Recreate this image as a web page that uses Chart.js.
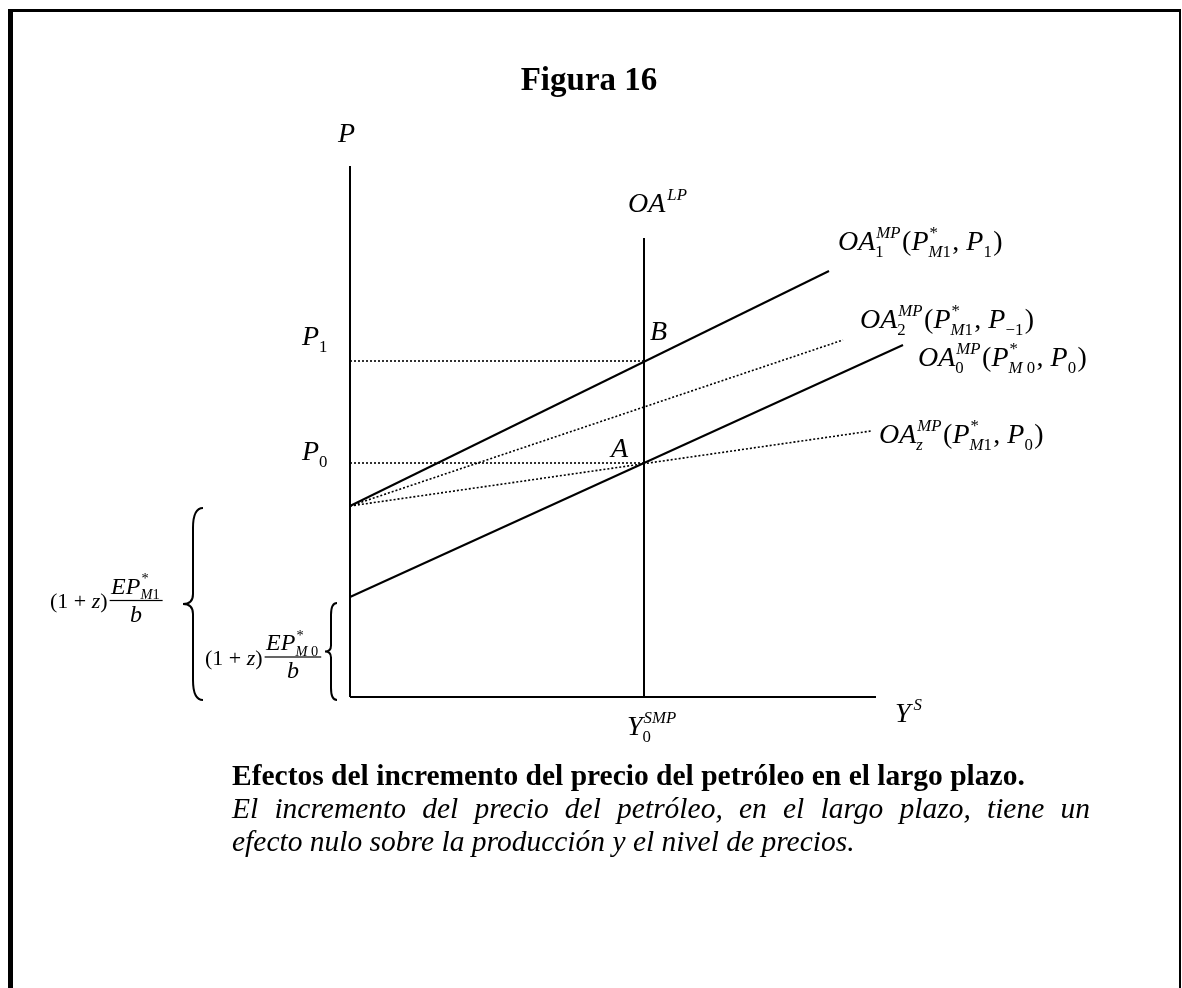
<!DOCTYPE html>
<html>
<head>
<meta charset="utf-8">
<script src="https://cdn.jsdelivr.net/npm/chart.js@4.4.1/dist/chart.umd.min.js"></script>
<style>
  body { margin: 0; background: #fff; font-family: "Liberation Serif", "Times New Roman", serif; }
  #frame { position: absolute; left: 8px; top: 9px; width: 1166px; height: 1000px;
           border-left: 5px solid #000; border-top: 3px solid #000; border-right: 2px solid #000; }
  #chart { position: absolute; left: 0; top: 0; }
  #title { position: absolute; left: 0; width: 1178px; top: 61px; text-align: center;
           font-weight: bold; font-size: 33px; }
  #caption { position: absolute; left: 232px; top: 759px; width: 858px; font-size: 29.5px; line-height: 33px; }
  #caption b { display: block; white-space: nowrap; }
  #caption .j { display: block; font-style: italic; text-align: justify; text-align-last: justify; white-space: nowrap; }
  #caption .l { display: block; font-style: italic; white-space: nowrap; }
</style>
</head>
<body>
<div id="frame"></div>
<canvas id="chart" width="1182" height="988"></canvas>
<div id="title">Figura 16</div>
<div id="caption">
  <b>Efectos del incremento del precio del petróleo en el largo plazo.</b>
  <span class="j">El incremento del precio del petróleo, en el largo plazo, tiene un</span>
  <span class="l">efecto nulo sobre la producción y el nivel de precios.</span>
</div>
<script>
// axis extents (picture units, origin at the axes corner)
const xAxisEnd = 526;
const yAxisTop = 531;

// long-run supply OA^LP sits at Y0^SMP
const ySMP = 294;
const lrasTop = 459;

// price levels P0, P1
const priceNames = ['P0', 'P1'];
const priceLevels = [234, 336];

// intercepts (1+z)EP*M0/b and (1+z)EP*M1/b
const intercepts = [100, 191];

// medium-run supply curves: start on the P axis, end point
const curveNames = ['OA0', 'OA1', 'OA2', 'OAz'];
const curveStartY = [100, 191, 191, 191];
const curveEndX = [553, 479, 493, 521];
const curveEndY = [352, 426, 357, 266];
const curveDotted = [false, false, true, true];

function seg(x0, y0, x1, y1, dotted) {
  return {
    data: [{ x: x0, y: y0 }, { x: x1, y: y1 }],
    showLine: true,
    borderColor: '#000',
    borderWidth: dotted ? 1.6 : 2,
    borderDash: dotted ? [2, 2] : [],
    pointRadius: 0,
    clip: false,
    fill: false
  };
}

const datasets = [
  seg(0, 0, 0, yAxisTop, false),
  seg(0, 0, xAxisEnd, 0, false),
  seg(ySMP, 0, ySMP, lrasTop, false)
];
priceLevels.forEach(p => datasets.push(seg(0, p, ySMP, p, true)));
curveNames.forEach((n, i) => datasets.push(seg(0, curveStartY[i], curveEndX[i], curveEndY[i], curveDotted[i])));

// ---- little math typesetter: letters italic, the rest upright ----
function fontFor(ch, size) {
  return (/[A-Za-z]/.test(ch) ? 'italic ' : '') + size + 'px "Liberation Serif"';
}
function run(ctx, str, x, y, size, draw) {
  for (const ch of str) {
    ctx.font = fontFor(ch, size);
    if (draw) ctx.fillText(ch, x, y);
    x += ctx.measureText(ch).width;
  }
  return x;
}
function math(ctx, tokens, x, y, size, draw = true) {
  const s = size * 0.6;
  tokens.forEach(t => {
    if (typeof t === 'string') {
      x = run(ctx, t, x, y, size, draw);
    } else {
      const x0 = x + (t.kern || 0);
      let w = 0;
      if (t.sup) w = Math.max(w, run(ctx, t.sup, x0 + 1, y - size * 0.42, s, draw) - x0);
      if (t.sub) w = Math.max(w, run(ctx, t.sub, x0, y + size * 0.24, s, draw) - x0);
      x = x0 + w + 1.5;
    }
  });
  return x;
}
function frac(ctx, left, num, den, x, lineY, size, fsize) {
  x = math(ctx, left, x, lineY + size * 0.36, size);
  x += 2;
  const wn = math(ctx, num, 0, 0, fsize, false);
  const wd = math(ctx, den, 0, 0, fsize, false);
  const w = Math.max(wn, wd) + 3;
  ctx.fillRect(x, lineY - 0.6, w, 1.2);
  math(ctx, num, x + (w - wn) / 2, lineY - 7, fsize);
  math(ctx, den, x + (w - wd) / 2, lineY + fsize * 0.88, fsize);
}
function brace(ctx, xTip, yTop, yBot, w) {
  const xm = xTip + w / 2, xr = xTip + w, mid = (yTop + yBot) / 2;
  ctx.beginPath();
  ctx.moveTo(xr, yTop);
  ctx.quadraticCurveTo(xm, yTop, xm, yTop + w);
  ctx.lineTo(xm, mid - w / 2);
  ctx.quadraticCurveTo(xm, mid, xTip, mid);
  ctx.quadraticCurveTo(xm, mid, xm, mid + w / 2);
  ctx.lineTo(xm, yBot - w);
  ctx.quadraticCurveTo(xm, yBot, xr, yBot);
  ctx.stroke();
}

const curveLabels = {
  OA1: { dx: 9, dy: -21, tokens: ['OA', { sup: 'MP', sub: '1' }, '(', 'P', { sup: '*', sub: 'M1' }, ', ', 'P', { sub: '1' }, ')'] },
  OA2: { dx: 17, dy: -12, tokens: ['OA', { sup: 'MP', sub: '2' }, '(', 'P', { sup: '*', sub: 'M1' }, ', ', 'P', { sub: '\u22121' }, ')'] },
  OA0: { dx: 15, dy: 21, tokens: ['OA', { sup: 'MP', sub: '0' }, '(', 'P', { sup: '*', sub: 'M 0' }, ', ', 'P', { sub: '0' }, ')'] },
  OAz: { dx: 8, dy: 12, tokens: ['OA', { sup: 'MP', sub: 'z' }, '(', 'P', { sup: '*', sub: 'M1' }, ', ', 'P', { sub: '0' }, ')'] }
};

const labelsPlugin = {
  id: 'labels',
  afterDatasetsDraw(chart) {
    const ctx = chart.ctx, xs = chart.scales.x, ys = chart.scales.y;
    const X = v => xs.getPixelForValue(v), Y = v => ys.getPixelForValue(v);
    const fs = 28;
    ctx.save();
    ctx.fillStyle = '#000';
    ctx.strokeStyle = '#000';
    ctx.lineWidth = 2;
    ctx.textBaseline = 'alphabetic';

    math(ctx, ['P'], X(0) - 12, Y(yAxisTop) - 24, fs);
    math(ctx, ['OA', { sup: 'LP', kern: 1 }], X(ySMP) - 16, Y(lrasTop) - 26, fs);
    priceNames.forEach((n, i) => {
      math(ctx, ['P', { sub: n.slice(1) }], X(0) - 48, Y(priceLevels[i]) - (i ? 16 : 3), fs);
    });
    math(ctx, ['B'], X(ySMP) + 6, Y(priceLevels[1]) - 21, fs);
    math(ctx, ['A'], X(ySMP) - 33, Y(priceLevels[0]) - 6, fs);

    curveNames.forEach((n, i) => {
      const l = curveLabels[n];
      math(ctx, l.tokens, X(curveEndX[i]) + l.dx, Y(curveEndY[i]) + l.dy, fs);
    });

    math(ctx, ['Y', { sup: 'S', kern: 2 }], X(xAxisEnd) + 19, Y(0) + 25, fs);
    math(ctx, ['Y', { sup: 'SMP', sub: '0' }], X(ySMP) - 17, Y(0) + 38, fs);

    // braces measuring the two intercepts
    brace(ctx, X(0) - 167, Y(intercepts[1]) + 2, Y(0) + 3, 20);
    brace(ctx, X(0) - 25, Y(intercepts[0]) + 6, Y(0) + 3, 12);

    frac(ctx, ['(1 + z)'], ['EP', { sup: '*', sub: 'M1' }], ['b'], X(0) - 300, (Y(intercepts[1]) + Y(0)) / 2 - 1, 22, 24);
    frac(ctx, ['(1 + z)'], ['EP', { sup: '*', sub: 'M 0' }], ['b'], X(0) - 145, (Y(intercepts[0]) + Y(0)) / 2 + 10, 22, 24);
    ctx.restore();
  }
};

new Chart(document.getElementById('chart').getContext('2d'), {
  type: 'scatter',
  data: { datasets: datasets },
  options: {
    responsive: false,
    animation: false,
    events: [],
    layout: { padding: { left: 350, right: 32, top: 97, bottom: 291 } },
    scales: {
      x: { type: 'linear', min: 0, max: 800, display: false },
      y: { type: 'linear', min: 0, max: 600, display: false }
    },
    plugins: { legend: { display: false }, tooltip: { enabled: false } }
  },
  plugins: [labelsPlugin]
});
</script>
</body>
</html>
